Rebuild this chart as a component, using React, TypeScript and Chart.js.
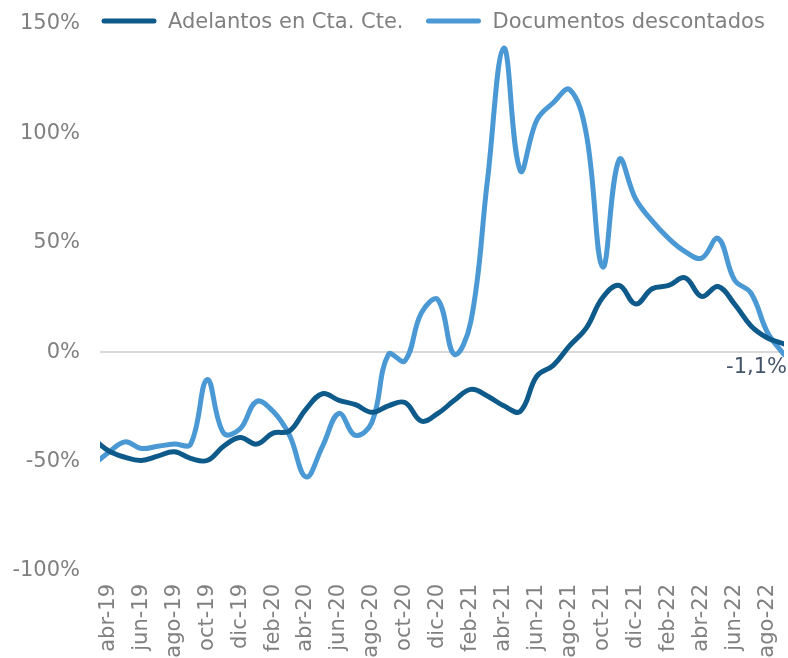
import React, { useEffect, useRef } from "react";
import { Chart, registerables } from "chart.js";

Chart.register(...registerables);

const months = [
  "mar-19", "abr-19", "may-19", "jun-19", "jul-19", "ago-19", "sep-19", "oct-19", "nov-19", "dic-19",
  "ene-20", "feb-20", "mar-20", "abr-20", "may-20", "jun-20", "jul-20", "ago-20", "sep-20", "oct-20", "nov-20", "dic-20",
  "ene-21", "feb-21", "mar-21", "abr-21", "may-21", "jun-21", "jul-21", "ago-21", "sep-21", "oct-21", "nov-21", "dic-21",
  "ene-22", "feb-22", "mar-22", "abr-22", "may-22", "jun-22", "jul-22", "ago-22", "sep-22",
];

const adelantos = [
  -39, -45, -48, -49.5, -47.5, -45.5, -48.5, -49.5, -43, -39,
  -42, -37, -36, -26, -19, -22, -24, -27.5, -24.5, -23, -31.5, -28,
  -22, -17, -20, -24.5, -27, -11, -6, 3, 11, 25, 30.5, 22,
  29, 30.5, 34, 25.5, 30, 22, 12, 6.5, 3.8,
];

const documentos = [
  -52, -46, -41, -44, -43, -42, -42, -12.5, -37, -35,
  -22.5, -27, -38, -57, -43, -28, -38, -32, -1, -4, 18, 24,
  -1, 14, 78, 139, 83, 106, 114, 120, 100, 39, 88, 70,
  60, 52, 46, 43, 52, 33, 27, 9, -1.1,
];

const seriesNames = ["Adelantos en Cta. Cte.", "Documentos descontados"];
const seriesColors = ["#0E5A8A", "#4A98D4"];
const yTicks = [-100, -50, 0, 50, 100, 150];
const xTickIdx = [1, 3, 5, 7, 9, 11, 13, 15, 17, 19, 21, 23, 25, 27, 29, 31, 33, 35, 37, 39, 41];

const FONT = '"DejaVu Sans", Verdana, sans-serif';
const GRAY = "#808080";

const legendPlugin = {
  id: "topLegend",
  afterDraw(chart: any) {
    const ctx = chart.ctx;
    ctx.save();
    ctx.font = `21px ${FONT}`;
    ctx.textBaseline = "middle";
    ctx.textAlign = "left";
    let x = 101;
    chart.data.datasets.forEach((ds: any) => {
      ctx.strokeStyle = ds.borderColor;
      ctx.lineWidth = 5;
      ctx.lineCap = "round";
      ctx.beginPath();
      ctx.moveTo(x + 3, 21);
      ctx.lineTo(x + 53, 21);
      ctx.stroke();
      ctx.fillStyle = GRAY;
      ctx.fillText(ds.label, x + 67, 23);
      x = x + 67 + ctx.measureText(ds.label).width + 22;
    });
    ctx.restore();
  },
};

const endLabelPlugin = {
  id: "endLabel",
  afterDatasetsDraw(chart: any) {
    const meta = chart.getDatasetMeta(1);
    const pts = meta.data;
    const last = pts[pts.length - 1];
    if (!last) return;
    const v = documentos[documentos.length - 1];
    const txt = v.toFixed(1).replace(".", ",") + "%";
    const ctx = chart.ctx;
    ctx.save();
    ctx.font = `21px ${FONT}`;
    ctx.fillStyle = "#44546A";
    ctx.textAlign = "right";
    ctx.textBaseline = "middle";
    ctx.fillText(txt, Math.min(last.x + 3, chart.width - 1), last.y + 13);
    ctx.restore();
  },
};

export default function App() {
  const ref = useRef<HTMLCanvasElement | null>(null);

  useEffect(() => {
    if (!ref.current) return;
    const mk = (vals: number[]) => vals.map((v, k) => ({ x: k, y: v }));
    const chart = new Chart(ref.current, {
      type: "line",
      data: {
        datasets: [
          {
            label: seriesNames[0],
            data: mk(adelantos),
            borderColor: seriesColors[0],
            backgroundColor: seriesColors[0],
            borderWidth: 5,
            pointRadius: 0,
            tension: 0.4,
            borderCapStyle: "round",
            borderJoinStyle: "round",
            clip: { left: 0, right: 0, top: false, bottom: false } as any,
          },
          {
            label: seriesNames[1],
            data: mk(documentos),
            borderColor: seriesColors[1],
            backgroundColor: seriesColors[1],
            borderWidth: 5,
            pointRadius: 0,
            tension: 0.4,
            borderCapStyle: "round",
            borderJoinStyle: "round",
            clip: { left: 0, right: 0, top: false, bottom: false } as any,
          },
        ],
      },
      options: {
        responsive: false,
        animation: false,
        layout: { padding: { top: 24, right: 4, bottom: 0, left: 0 } },
        plugins: {
          legend: { display: false },
          tooltip: { enabled: false },
        },
        scales: {
          x: {
            type: "linear",
            min: 0.5,
            max: 42,
            afterBuildTicks: (scale: any) => {
              scale.ticks = xTickIdx.map((v) => ({ value: v }));
            },
            afterFit: (scale: any) => {
              scale.height = 87;
              scale.paddingLeft = 0;
              scale.paddingRight = 0;
              scale.paddingTop = 0;
              scale.paddingBottom = 0;
            },
            grid: { display: false, drawTicks: false },
            border: { display: false },
            ticks: {
              autoSkip: false,
              minRotation: 90,
              maxRotation: 90,
              padding: 13,
              color: GRAY,
              font: { family: FONT, size: 21 },
              callback: (value: any) => months[Number(value)] ?? "",
            },
          },
          y: {
            min: -100,
            max: 150,
            afterBuildTicks: (scale: any) => {
              scale.ticks = yTicks.map((v) => ({ value: v }));
            },
            afterFit: (scale: any) => {
              scale.width = 100;
              scale.paddingLeft = 0;
              scale.paddingRight = 0;
              scale.paddingTop = 0;
              scale.paddingBottom = 0;
            },
            grid: {
              drawTicks: false,
              lineWidth: 2,
              color: (c: any) => (c.tick && c.tick.value === 0 ? "#D9D9D9" : "rgba(0,0,0,0)"),
            },
            border: { display: false },
            ticks: {
              padding: 20,
              color: GRAY,
              font: { family: FONT, size: 21 },
              callback: (value: any) => `${value}%`,
            },
          },
        },
      },
      plugins: [legendPlugin, endLabelPlugin],
    });
    return () => chart.destroy();
  }, []);

  return (
    <div style={{ position: "fixed", left: 0, top: 0, width: 788, height: 658, background: "#fff" }}>
      <canvas ref={ref} width={788} height={658} style={{ display: "block" }} />
    </div>
  );
}
